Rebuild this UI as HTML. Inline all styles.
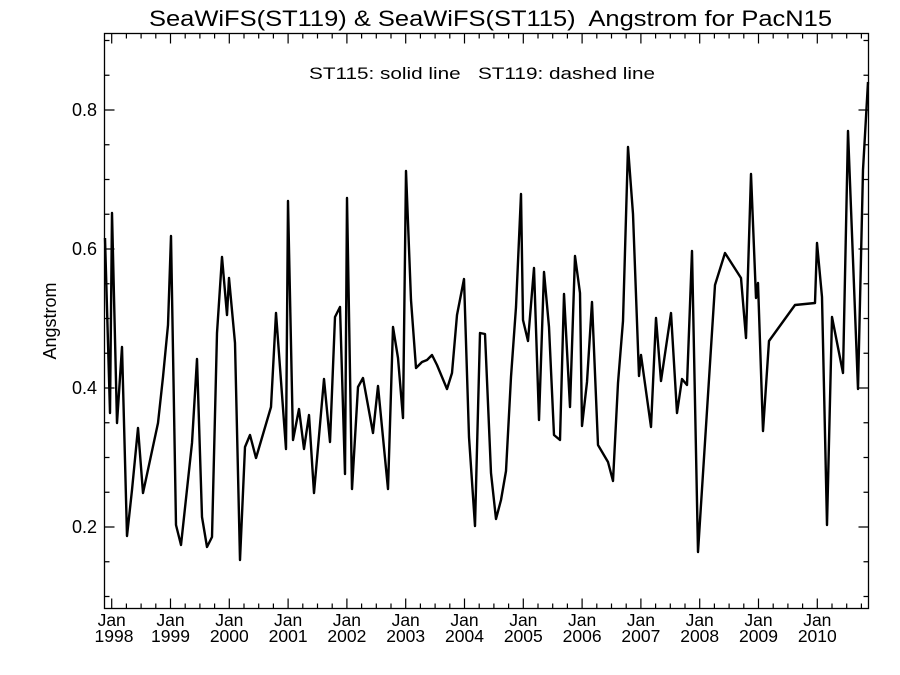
<!DOCTYPE html>
<html><head><meta charset="utf-8"><style>body{margin:0;background:#fff}svg{display:block}</style></head><body>
<svg width="900" height="675" xmlns="http://www.w3.org/2000/svg" font-family="Liberation Sans, sans-serif">
<rect width="900" height="675" fill="#fff"/>
<text x="149" y="26" font-size="22" textLength="683" lengthAdjust="spacingAndGlyphs" xml:space="preserve">SeaWiFS(ST119) &amp; SeaWiFS(ST115)  Angstrom for PacN15</text>
<text x="309" y="79" font-size="17" textLength="346" lengthAdjust="spacingAndGlyphs" xml:space="preserve">ST115: solid line   ST119: dashed line</text>
<text transform="translate(56,321) rotate(-90)" font-size="18" text-anchor="middle">Angstrom</text>
<rect x="104.5" y="33.5" width="764" height="575" fill="none" stroke="#000" stroke-width="1.3"/>
<path stroke="#000" stroke-width="1.2" fill="none" d="
M104.5 527H114.5M104.5 388H114.5M104.5 249H114.5M104.5 110H114.5
M868.5 527H858.5M868.5 388H858.5M868.5 249H858.5M868.5 110H858.5
M104.5 596.5h5M104.5 561.75h5M104.5 492.25h5M104.5 457.5h5M104.5 422.75h5M104.5 353.25h5M104.5 318.5h5M104.5 283.75h5M104.5 214.25h5M104.5 179.5h5M104.5 144.75h5M104.5 75.25h5M104.5 40.5h5
M868.5 596.5h-5M868.5 561.75h-5M868.5 492.25h-5M868.5 457.5h-5M868.5 422.75h-5M868.5 353.25h-5M868.5 318.5h-5M868.5 283.75h-5M868.5 214.25h-5M868.5 179.5h-5M868.5 144.75h-5M868.5 75.25h-5M868.5 40.5h-5
M111.7 608.5v-10M170.5 608.5v-10M229.3 608.5v-10M288.1 608.5v-10M346.9 608.5v-10M405.7 608.5v-10M464.5 608.5v-10M523.3 608.5v-10M582.1 608.5v-10M640.9 608.5v-10M699.7 608.5v-10M758.5 608.5v-10M817.3 608.5v-10
M111.7 33.5v10M170.5 33.5v10M229.3 33.5v10M288.1 33.5v10M346.9 33.5v10M405.7 33.5v10M464.5 33.5v10M523.3 33.5v10M582.1 33.5v10M640.9 33.5v10M699.7 33.5v10M758.5 33.5v10M817.3 33.5v10
M126.4 608.5v-5M141.1 608.5v-5M155.8 608.5v-5M185.2 608.5v-5M199.9 608.5v-5M214.6 608.5v-5M244 608.5v-5M258.7 608.5v-5M273.4 608.5v-5M302.8 608.5v-5M317.5 608.5v-5M332.2 608.5v-5M361.6 608.5v-5M376.3 608.5v-5M391 608.5v-5M420.4 608.5v-5M435.1 608.5v-5M449.8 608.5v-5M479.2 608.5v-5M493.9 608.5v-5M508.6 608.5v-5M538 608.5v-5M552.7 608.5v-5M567.4 608.5v-5M596.8 608.5v-5M611.5 608.5v-5M626.2 608.5v-5M655.6 608.5v-5M670.3 608.5v-5M685 608.5v-5M714.4 608.5v-5M729.1 608.5v-5M743.8 608.5v-5M773.2 608.5v-5M787.9 608.5v-5M802.6 608.5v-5M832 608.5v-5M846.7 608.5v-5M861.4 608.5v-5
M126.4 33.5v5M141.1 33.5v5M155.8 33.5v5M185.2 33.5v5M199.9 33.5v5M214.6 33.5v5M244 33.5v5M258.7 33.5v5M273.4 33.5v5M302.8 33.5v5M317.5 33.5v5M332.2 33.5v5M361.6 33.5v5M376.3 33.5v5M391 33.5v5M420.4 33.5v5M435.1 33.5v5M449.8 33.5v5M479.2 33.5v5M493.9 33.5v5M508.6 33.5v5M538 33.5v5M552.7 33.5v5M567.4 33.5v5M596.8 33.5v5M611.5 33.5v5M626.2 33.5v5M655.6 33.5v5M670.3 33.5v5M685 33.5v5M714.4 33.5v5M729.1 33.5v5M743.8 33.5v5M773.2 33.5v5M787.9 33.5v5M802.6 33.5v5M832 33.5v5M846.7 33.5v5M861.4 33.5v5"/>
<g font-size="18" text-anchor="end">
<text x="97" y="533">0.2</text><text x="97" y="394">0.4</text><text x="97" y="255">0.6</text><text x="97" y="116">0.8</text>
</g>
<g font-size="17.5" text-anchor="middle">
<text x="111.7" y="626">Jan</text><text x="114" y="642">1998</text>
<text x="170.5" y="626">Jan</text><text x="170.5" y="642">1999</text>
<text x="229.3" y="626">Jan</text><text x="229.3" y="642">2000</text>
<text x="288.1" y="626">Jan</text><text x="288.1" y="642">2001</text>
<text x="346.9" y="626">Jan</text><text x="346.9" y="642">2002</text>
<text x="405.7" y="626">Jan</text><text x="405.7" y="642">2003</text>
<text x="464.5" y="626">Jan</text><text x="464.5" y="642">2004</text>
<text x="523.3" y="626">Jan</text><text x="523.3" y="642">2005</text>
<text x="582.1" y="626">Jan</text><text x="582.1" y="642">2006</text>
<text x="640.9" y="626">Jan</text><text x="640.9" y="642">2007</text>
<text x="699.7" y="626">Jan</text><text x="699.7" y="642">2008</text>
<text x="758.5" y="626">Jan</text><text x="758.5" y="642">2009</text>
<text x="817.3" y="626">Jan</text><text x="817.3" y="642">2010</text>
</g>
<polyline fill="none" stroke="#000" stroke-width="2.4" stroke-linejoin="round" points="105,238 110,413 112,213 117,423 122,347 127,536 132,490 138,428 143,493 158,423 163,377 168,325 171,236 176,525 181,545 192,443 197,359 202,517 207,547 212,537 217,333 222,257 227,315 229,278 235,343 240,560 245,447 250,435 256,458 271,407 276,313 286,449 288,201 293,440 299,409 304,449 309,415 314,493 324,379 330,442 335,317 340,307 345,474 347,198 352,489 358,387 363,378 373,433 378,386 388,489 393,327 398,358 403,418 406,171 411,300 416,368 422,362 427,360 432,355 437,365 447,389 452,373 457,315 464,279 469,437 475,526 480,333 485,334 491,473 496,519 501,500 506,471 511,377 516,307 521,194 523,320 528,341 534,268 539,420 544,272 549,327 554,435 560,440 564,294 570,407 575,256 580,293 582,426 587,382 592,302 598,445 608,462 613,481 618,383 623,321 628,147 633,214 639,376 641,355 651,427 656,318 661,381 671,313 677,413 682,379 687,385 692,251 698,552 715,285 725,253 741,278 746,338 751,174 756,298 758,283 763,431 769,341 795,305 815,303 817,243 822,297 827,525 832,317 843,373 848,131 858,389 863,170 868,82"/>
</svg>
</body></html>
